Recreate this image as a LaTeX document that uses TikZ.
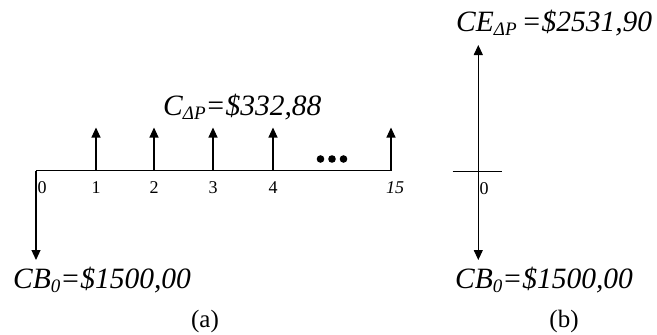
\documentclass[tikz,border=0pt]{standalone}
\usepackage{fontspec}
\setmainfont{Liberation Serif}
\usetikzlibrary{arrows.meta}
\tikzset{
  flow/.style={line width=1.1pt,-{Triangle[width=9pt,length=10pt]}},
  axisline/.style={line width=1.1pt},
  tick/.style={font=\fontsize{18}{18}\selectfont,inner sep=0pt},
  big/.style={font=\fontsize{29.5}{29.5}\selectfont\itshape,inner sep=0pt,anchor=west},
  captiontext/.style={font=\fontsize{25}{25}\selectfont,inner sep=0pt}
}
\newcommand{\sub}[1]{\raisebox{-4pt}{\fontsize{19}{19}\selectfont #1}}
\begin{document}
\begin{tikzpicture}[x=1pt,y=-1pt]
\useasboundingbox (0,0) rectangle (657,335);
% (a)
\coordinate (a0) at (36,170.5);
\coordinate (aend) at (391,170.5);
\draw[axisline] (a0) -- (aend);
\coordinate (d0) at (36,260);
\draw[flow] (a0) -- (d0);
\foreach \x/\n in {96/1,154/2,213/3,273/4,391/15}{
  \coordinate (b\n) at (\x,170.5);
  \coordinate (t\n) at (\x,127.5);
  \draw[flow] (b\n) -- (t\n);
}
\node[tick,anchor=west] (l0) at (37.5,188) {0};
\node[tick] (l1) at (96,188) {1};
\node[tick] (l2) at (154,188) {2};
\node[tick] (l3) at (213,188) {3};
\node[tick] (l4) at (273,188) {4};
\node[tick] (l15) at (395,188) {\itshape 15};
\foreach \x [count=\i] in {320.5,332,343.5}
  \fill (\x,159) circle (3.8) coordinate (dot\i);
\node[big] (ca) at (163,107) {C\sub{ΔP}=\$332,88};
\node[big] (cba) at (13,280) {CB\sub{0}=\$1500,00};
\node[captiontext] (capa) at (205,321) {(a)};
% (b)
\coordinate (h1) at (452.7,171.7);
\coordinate (h2) at (501.7,171.7);
\draw[axisline] (h1) -- (h2);
\coordinate (c0) at (478.3,171.7);
\coordinate (ctop) at (478.3,45);
\coordinate (cbot) at (478.3,260);
\draw[flow] (c0) -- (ctop);
\draw[flow] (c0) -- (cbot);
\node[tick,anchor=west] (lb0) at (479.5,189) {0};
\node[big] (ce) at (456,23) {CE\sub{ΔP}\hspace{5pt}=\$2531,90};
\node[big] (cbb) at (455,280) {CB\sub{0}=\$1500,00};
\node[captiontext] (capb) at (564,321) {(b)};
\end{tikzpicture}
\end{document}
